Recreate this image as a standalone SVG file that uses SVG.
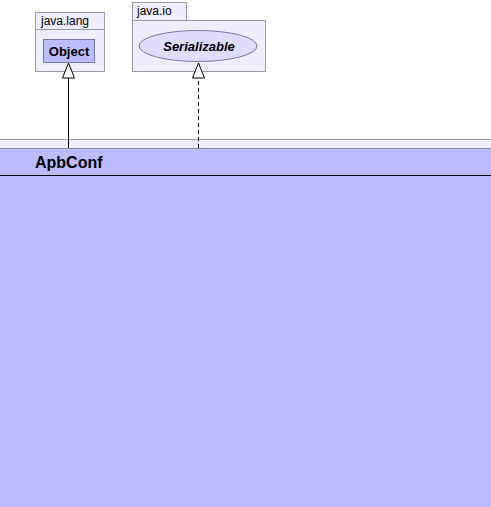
<svg xmlns="http://www.w3.org/2000/svg" width="491" height="507" viewBox="0 0 491 507">
<style>
.pkg{fill:#eeeeff;stroke:#9999aa;stroke-width:1}
.plabel{font-family:"Liberation Sans",Arial,sans-serif;font-size:12px;fill:#000}
.cls{fill:#bbbbff;stroke:#7777aa;stroke-width:1}
.bold{font-family:"Liberation Sans",Arial,sans-serif;font-weight:bold;font-size:13px;fill:#000}
.edge{stroke:#000;stroke-width:1;fill:none}
.head{fill:#fff;stroke:#000;stroke-width:1}
</style>
<rect width="491" height="507" fill="#ffffff"/>
<g id="pkg-java-lang">
<rect class="pkg" x="35.5" y="12.5" width="69" height="17"/>
<rect class="pkg" x="35.5" y="29.5" width="69" height="42"/>
<text class="plabel" x="41" y="25">java.lang</text>
</g>
<g id="node-Object">
<rect class="cls" x="43.5" y="39.5" width="51" height="23" stroke="#555577"/>
<text class="bold" x="69" y="56" text-anchor="middle">Object</text>
</g>
<g id="pkg-java-io">
<rect class="pkg" x="132.5" y="2.5" width="54" height="18"/>
<rect class="pkg" x="132.5" y="20.5" width="133" height="51"/>
<text class="plabel" x="137" y="15">java.io</text>
</g>
<g id="node-Serializable">
<ellipse cx="198" cy="46" rx="59" ry="15.5" fill="#ddddff" stroke="#7777aa"/>
<text class="bold" x="199" y="51" text-anchor="middle" font-style="italic">Serializable</text>
</g>
<g id="node-ApbConf">
<rect x="-1" y="139.5" width="493" height="9" fill="#eeeeff" stroke="#999999"/>
<rect x="-1" y="148.5" width="493" height="360" fill="#bbbbff" stroke="#8888aa"/>
<line x1="0" y1="175.5" x2="491" y2="175.5" stroke="#000"/>
<text x="35" y="168" font-family="Liberation Sans, Arial, sans-serif" font-size="16" font-weight="bold" fill="#000">ApbConf</text>
</g>
<g id="connectors">
<line class="edge" x1="68.5" y1="148" x2="68.5" y2="78"/>
<polygon class="head" points="68.5,63 62.5,78 74.5,78"/>
<line class="edge" x1="198.5" y1="148" x2="198.5" y2="78" stroke-dasharray="4,3"/>
<polygon class="head" points="198.5,63 192.5,78 204.5,78"/>
</g>
</svg>
